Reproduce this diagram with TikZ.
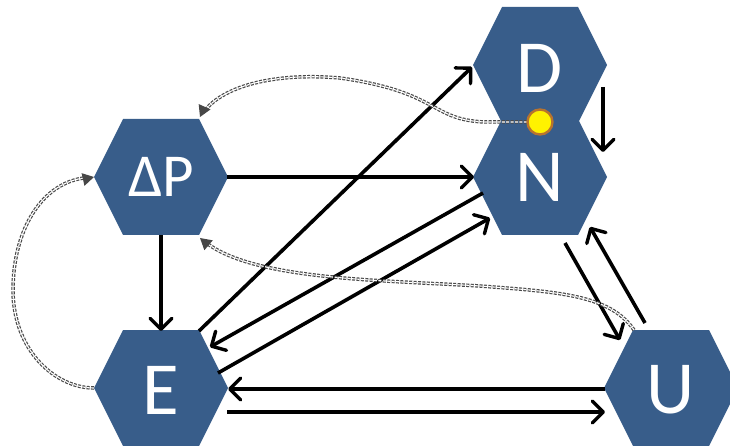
\documentclass[tikz,border=0pt]{standalone}
\usepackage{fontspec}
\setmainfont{Carlito}
\usetikzlibrary{arrows.meta,calc}
\definecolor{hexblue}{HTML}{385D8A}
\definecolor{dotrim}{HTML}{B8732E}
\definecolor{feedgray}{HTML}{4A4A4A}
\tikzset{
  hexlabel/.style={text=white,inner sep=0pt,font=\fontsize{75}{75}\selectfont},
  flow/.style={line width=3.6pt,-{Straight Barb[length=11pt,width=22pt,line width=3.4pt,round]}},
  feedback/.style={draw=feedgray,line width=1.2pt,double=white,double distance=1.1pt,
    dash pattern=on 3pt off 1.4pt},
  feedtip/.style={fill=black!72,draw=none},
}
% flat-topped hexagon around a named centre
\newcommand\hexagonat[1]{%
  \fill[hexblue] ($(#1)+(-67,0)$) -- ($(#1)+(-38,-58)$) -- ($(#1)+(38,-58)$)
    -- ($(#1)+(67,0)$) -- ($(#1)+(38,58)$) -- ($(#1)+(-38,58)$) -- cycle;}
% filled triangular head: tip, and a point on the curve behind it
% (the picture's y axis points down, hence the sign flip in atan2)
\newcommand\feedhead[2]{%
  \path let \p1=($(#1)-(#2)$), \n1={atan2(-\y1,\x1)} in
    [feedtip] (#1) -- ++(\n1+150:13) -- ++(\n1-90:13) -- cycle;}
\begin{document}
\begin{tikzpicture}[x=1pt,y=-1pt]
\useasboundingbox (0,0) rectangle (730,446);
\coordinate (D) at (540,65);
\coordinate (N) at (540,177);
\coordinate (P) at (161,177);
\coordinate (E) at (161,388);
\coordinate (U) at (671,388);
\begin{scope}
\clip (0,0) rectangle (730,446);
\hexagonat{D}\hexagonat{N}\hexagonat{P}\hexagonat{E}\hexagonat{U}
\end{scope}
\node[hexlabel] (Dl) at ($(D)+(0,3)$) {D};
\node[hexlabel] (Nl) at (N) {N};
\node[hexlabel,font=\fontsize{61}{61}\selectfont] (Pl) at (P) {ΔP};
\node[hexlabel] (El) at ($(E)+(0,2)$) {E};
\node[hexlabel] (Ul) at ($(U)+(0,2)$) {U};

% causal links
\draw[flow] ($(P)+(66,0)$) -- ($(N)+(-66,0)$);
\draw[flow] ($(P)+(0,58)$) -- ($(E)+(0,-57)$);
\draw[flow] ($(E)+(38,-57)$) -- ($(D)+(-68,2)$);
\draw[flow] ($(N)+(-57,16)$) -- ($(E)+(49,-41)$);
\draw[flow] ($(E)+(57,-15)$) -- ($(N)+(-50,41)$);
\draw[flow] ($(U)+(-66,1)$) -- ($(E)+(67,1)$);
\draw[flow] ($(E)+(66,24)$) -- ($(U)+(-66,24)$);
\draw[flow] ($(D)+(63,22)$) -- ($(N)+(63,-25)$);
\draw[flow] ($(N)+(25,66)$) -- ($(U)+(-51,-48)$);
\draw[flow] ($(U)+(-26,-65)$) -- ($(N)+(50,50)$);

% feedback paths
\coordinate (dot) at (540,122);
\coordinate (Pne) at ($(P)+(39,-60)$);
\coordinate (Pw) at ($(P)+(-67,0)$);
\coordinate (Pse) at ($(P)+(39,61)$);
\coordinate (Ew) at ($(E)+(-67,0)$);
\coordinate (Unw) at ($(U)+(-37,-58)$);
\draw[feedback,shorten >=8pt] (dot) -- (485,122) .. controls (430,120) and (440,92) .. (340,78)
  .. controls (270,72) and (222,88) .. (Pne);
\feedhead{Pne}{209,97}
\draw[feedback,shorten >=8pt] (Ew) .. controls (55,388) and (13,350) .. (13,290)
  .. controls (13,230) and (42,182) .. (Pw);
\feedhead{Pw}{72,182}
\draw[feedback,shorten >=8pt] (Unw) .. controls (610,295) and (560,292) .. (480,286)
  .. controls (380,280) and (255,280) .. (Pse);
\feedhead{Pse}{220,255}

\node[circle,fill=yellow,draw=dotrim,line width=2.4pt,minimum size=25pt,inner sep=0pt] (dotn) at (dot) {};
\end{tikzpicture}
\end{document}
